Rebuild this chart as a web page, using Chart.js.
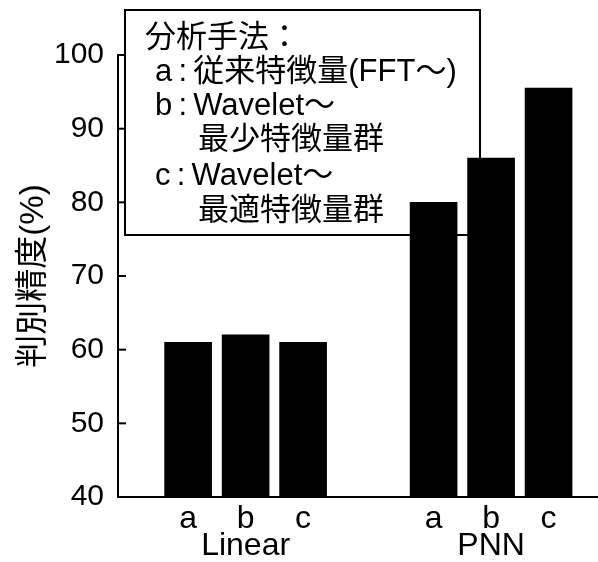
<!DOCTYPE html>
<html>
<head>
<meta charset="utf-8">
<script src="https://cdn.jsdelivr.net/npm/chart.js@4/dist/chart.umd.min.js"></script>
<style>
  html, body { margin: 0; padding: 0; background: #fff; }
  #wrap { width: 598px; height: 562px; position: relative; }
</style>
</head>
<body>
<div id="wrap"><canvas id="c" width="598" height="562"></canvas></div>
<script>
// ---- data ----
const groups = ['Linear', 'PNN'];
const methods = ['a', 'b', 'c'];
const linearValues = [61, 62, 61];
const pnnValues = [80, 86, 95.5];
const yTickValues = [40, 50, 60, 70, 80, 90, 100];
const yTitle = '判別精度(%)';
const legendLines = [
  '分析手法：',
  'a\u2009:\u2009従来特徴量(FFT～)',
  'b\u2009:\u2009Wavelet～',
  '最少特徴量群',
  'c\u2009:\u2009Wavelet～',
  '最適特徴量群'
];

// ---- layout constants ----
const groupOffset = [0, 4.27];
const seriesByGroup = [linearValues, pnnValues];
const points = [];
const tickPositions = [];
groups.forEach((g, gi) => {
  methods.forEach((m, mi) => {
    const x = groupOffset[gi] + mi + 1;
    points.push({ x: x, y: seriesByGroup[gi][mi] });
    tickPositions.push(x);
  });
});

const LATIN = "'Liberation Sans', 'Noto Sans CJK JP', sans-serif";

const deco = {
  id: 'deco',
  beforeDatasetsDraw(chart) {
    const ctx = chart.ctx;
    ctx.save();
    ctx.fillStyle = '#fff';
    ctx.fillRect(125, 10, 355, 225);
    ctx.strokeStyle = '#000';
    ctx.lineWidth = 2;
    ctx.strokeRect(125, 10, 355, 225);
    ctx.fillStyle = '#000';
    ctx.font = '31px ' + LATIN;
    ctx.textBaseline = 'middle';
    ctx.textAlign = 'left';
    const ys = [38, 72, 106, 140, 176, 211];
    const xs = [145, 155, 155, 198, 155, 198];
    legendLines.forEach((t, i) => ctx.fillText(t, xs[i], ys[i]));
    ctx.restore();
  },
  afterDraw(chart) {
    const ctx = chart.ctx;
    const y = chart.scales.y;
    const left = chart.chartArea.left;
    ctx.save();
    ctx.strokeStyle = '#000';
    ctx.lineWidth = 2;
    yTickValues.forEach(v => {
      const py = y.getPixelForValue(v);
      ctx.beginPath();
      ctx.moveTo(left, py);
      ctx.lineTo(left + 8, py);
      ctx.stroke();
    });
    ctx.restore();
  }
};

new Chart(document.getElementById('c'), {
  type: 'bar',
  data: {
    datasets: [{
      data: points,
      backgroundColor: '#000',
      borderWidth: 0,
      barThickness: 47
    }]
  },
  options: {
    responsive: false,
    animation: false,
    layout: { padding: { top: 55, right: 0, left: 0, bottom: 0 } },
    plugins: { legend: { display: false }, tooltip: { enabled: false } },
    scales: {
      x: {
        type: 'linear',
        offset: false,
        min: -0.22,
        max: 8.13,
        grid: { display: false, drawTicks: false },
        border: { display: true, color: '#000', width: 2 },
        afterBuildTicks: (scale) => { scale.ticks = tickPositions.map(v => ({ value: v })); },
        afterFit: (scale) => { scale.height = 65; },
        ticks: {
          color: '#000',
          padding: 9,
          maxRotation: 0,
          autoSkip: false,
          font: { family: LATIN, size: 32, lineHeight: 0.84 },
          callback: (v, i) => (i % 3 === 1) ? [methods[i % 3], groups[Math.floor(i / 3)]] : methods[i % 3]
        }
      },
      y: {
        min: 40,
        max: 100,
        grid: { display: false, drawTicks: false },
        border: { display: true, color: '#000', width: 2 },
        afterBuildTicks: (scale) => { scale.ticks = yTickValues.map(v => ({ value: v })); },
        afterFit: (scale) => { scale.width = 118; },
        ticks: {
          color: '#000',
          padding: 14,
          font: { family: LATIN, size: 30 }
        },
        title: {
          display: true,
          text: yTitle,
          color: '#000',
          padding: { top: 14, bottom: 0 },
          font: { family: LATIN, size: 33 }
        }
      }
    }
  },
  plugins: [deco]
});
</script>
</body>
</html>
